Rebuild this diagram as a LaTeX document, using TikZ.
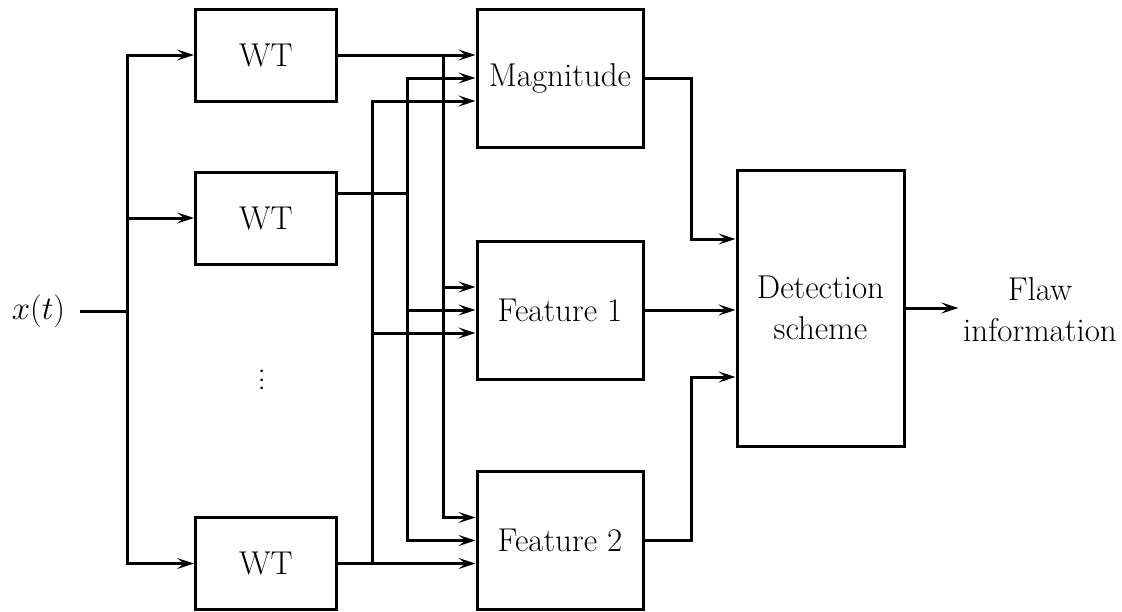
\RequirePackage{fix-cm}
\documentclass[tikz,border=0pt]{standalone}
\usetikzlibrary{arrows.meta,positioning}

\begin{document}
\begin{tikzpicture}[x=1pt, y=-1pt, line width=3pt,
        >={Stealth[length=17pt,width=11pt,inset=7pt]},
        every node/.style = {font=\fontsize{33}{41}\selectfont},
        wt/.style = {draw, minimum width=141pt, minimum height=92pt},
        box/.style = {draw, minimum width=166pt, minimum height=138pt}]
    \useasboundingbox (0,0) rectangle (1122,611);

    \node[wt] (w1) at (266,55) {WT};
    \node[wt] (w2) at (266,218) {WT};
    \node[wt] (w3) at (266,563.5) {WT};
    \node[rotate=90, anchor=base, inner sep=0pt] (dots) at (263,380) {.\kern0.5pt.\kern0.5pt.};
    \node[box] (mag) at (560,78) {Magnitude};
    \node[box] (f1) at (560,310) {Feature 1};
    \node[box] (f2) at (560,540.5) {Feature 2};
    \node[draw, minimum width=167pt, minimum height=276pt, align=center] (det) at (820.5,308) {Detection\\scheme};
    \node[align=center] (flaw) at (1040,310) {Flaw\\information};

    % input and bus
    \coordinate (in) at (80,311);
    \coordinate (bus) at (127,311);
    \node (xt) [left=10pt of in] {$x(t)$};
    \draw (in) -- (bus);
    \draw[->] (bus) |- (w1.west);
    \draw[->] (bus) |- (w2.west);
    \draw[->] (bus) |- (w3.west);

    % WT outputs to the features
    \coordinate (c3) at (443,55);
    \coordinate (c2) at (407,193);
    \coordinate (c1) at (372,563.5);
    \draw[->] (w1.east) -- ([yshift=23pt]mag.west);
    \draw[->] (c3) |- ([yshift=23pt]f1.west);
    \draw[->] (c3) |- ([yshift=23pt]f2.west);
    \draw ([yshift=25pt]w2.east) -- (c2);
    \draw[->] (c2) |- (mag.west);
    \draw[->] (c2) |- (f1.west);
    \draw[->] (c2) |- (f2.west);
    \draw[->] (w3.east) -- ([yshift=-23pt]f2.west);
    \draw[->] (c1) |- ([yshift=-23pt]f1.west);
    \draw[->] (c1) |- ([yshift=-23pt]mag.west);

    % features to detection
    \draw[->] (mag.east) -- ++(47,0) |- ([yshift=69pt]det.west);
    \draw[->] (f1.east) -- (f1.east -| det.west);
    \draw[->] (f2.east) -- ++(47,0) |- ([yshift=-69pt]det.west);
    \draw[->] (det.east) -- (det.east -| flaw.west);
\end{tikzpicture}
\end{document}
